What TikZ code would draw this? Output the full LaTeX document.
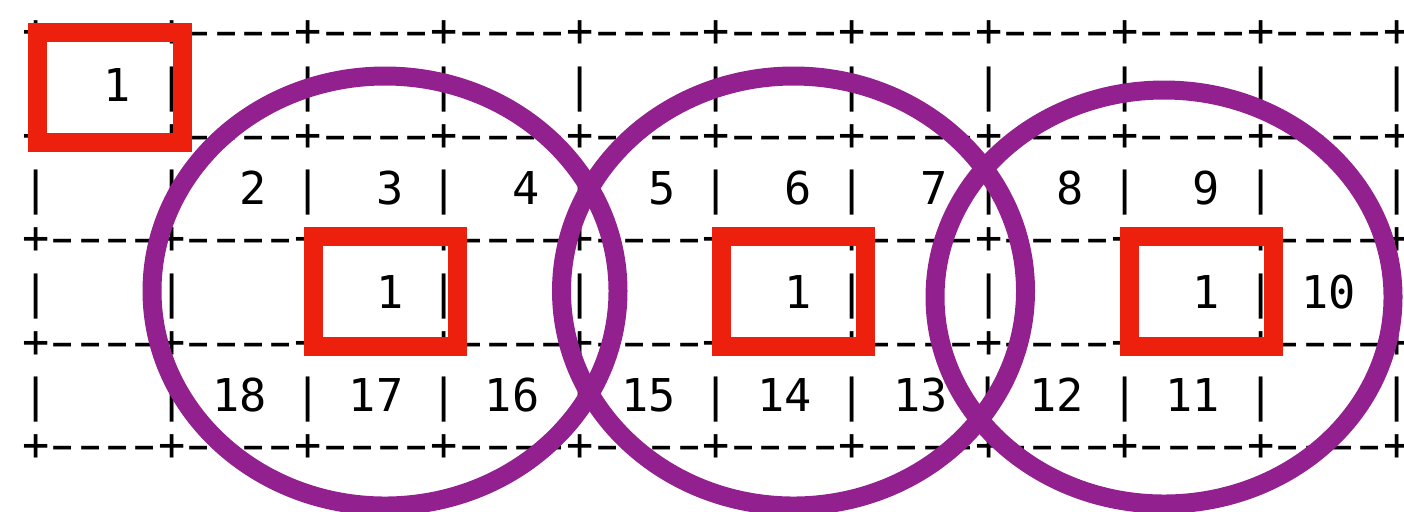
\documentclass[tikz,border=0pt]{standalone}
\usepackage{fontspec}
\setmonofont{DejaVu Sans Mono}
\usepackage{tikz}

\definecolor{boxred}{RGB}{237,32,14}
\definecolor{ringpurple}{RGB}{146,32,143}

% a wide hyphen, one character cell
\newcommand\hy{\makebox[0.602em]{\scalebox{1.55}[1]{-}}}
\newcommand\rulecell{+\hy\hy\hy\hy}
\newcommand\rulerow{\rulecell\rulecell\rulecell\rulecell\rulecell\rulecell\rulecell\rulecell\rulecell\rulecell+\kern-3pt}

\tikzset{
  gridrow/.style={anchor=base west,inner sep=0pt,font=\ttfamily\fontsize{12.86}{15}\selectfont},
  markbox/.style={draw=boxred,line width=5.4pt},
  ring/.style={draw=ringpurple,line width=5.4pt}
}

\begin{document}
\begin{tikzpicture}[x=.01cm,y=-.01cm]
\useasboundingbox (0,0) rectangle (1404,511);
% the ascii grid, one text line per row
\foreach \k/\dy/\txt in {0/-3/\rulerow,
  1/0/{|~~1~|~~~~|~~~~|~~~~|~~~~|~~~~|~~~~|~~~~|~~~~|~~~~|\kern-3pt},
  2/-3/\rulerow,
  3/0/{|~~~~|~~2~|~~3~|~~4~|~~5~|~~6~|~~7~|~~8~|~~9~|~~~~|\kern-3pt},
  4/-3/\rulerow,
  5/0/{|~~~~|~~~~|~~1~|~~~~|~~~~|~~1~|~~~~|~~~~|~~1~|~10~|\kern-3pt},
  6/-3/\rulerow,
  7/0/{|~~~~|~18~|~17~|~16~|~15~|~14~|~13~|~12~|~11~|~~~~|\kern-3pt},
  8/-3/\rulerow}{
  \node[gridrow] (row\k) at (21.4,{49.5+51.75*\k+\dy}) {\txt};
}
% red marks
\draw[markbox] (37.5,32.5) rectangle (182.5,142.5);
\foreach \x in {385,793.5,1201.5}{
  \draw[markbox] (\x-72,236) rectangle (\x+72,346);
}
% purple rings
\draw[ring] (385,291) ellipse [x radius=233,y radius=215];
\draw[ring] (793.5,291) ellipse [x radius=232,y radius=215];
\draw[ring] (1164,297) ellipse [x radius=229,y radius=207];
\end{tikzpicture}
\end{document}
